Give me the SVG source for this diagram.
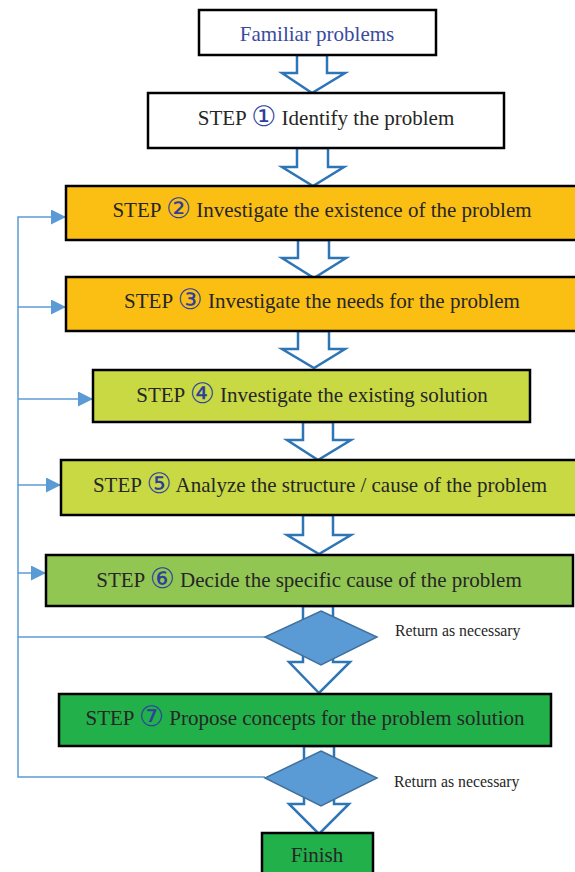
<svg xmlns="http://www.w3.org/2000/svg" width="575" height="872" viewBox="0 0 575 872">
<defs>
<marker id="tri" viewBox="0 0 15 15" refX="15" refY="7.5" markerWidth="15" markerHeight="15" markerUnits="userSpaceOnUse" orient="auto">
<path d="M0,0 L15,7.5 L0,15 Z" fill="#5b9bd5"/>
</marker>
<style>
.box{stroke:#000;stroke-width:2.5}
.t{font-family:"Liberation Serif","Times New Roman",serif;font-size:21px;fill:#262626;text-anchor:middle}
.n{font-family:"DejaVu Sans","Noto Sans CJK JP",sans-serif;font-size:28px;fill:#2e3f9e}
.blk{fill:#fff;stroke:#2e75b6;stroke-width:2.5;stroke-linejoin:miter}
.dia{fill:#5b9bd5;stroke:#41719c;stroke-width:1.5}
.fb{fill:none;stroke:#5b9bd5;stroke-width:1.5}
.r{font-family:"Liberation Serif","Times New Roman",serif;font-size:15.8px;fill:#262626}
</style>
</defs>
<g id="arrows">
<polygon class="blk" points="297,55 327,55 327,73 345,73 312,93 282,73 297,73"/>
<polygon class="blk" points="297,148 328,148 328,167 344,167 313,186 282,167 297,167"/>
<polygon class="blk" points="298,240 329,240 329,258 346,258 314,278 282,258 298,258"/>
<polygon class="blk" points="298,331 329,331 329,349 345,349 314,368 282,349 298,349"/>
<polygon class="blk" points="303,422 333,422 333,440 351,440 318,460 287,440 303,440"/>
<polygon class="blk" points="303,515 333,515 333,535 351,535 319,554 287,535 303,535"/>
<polygon class="blk" points="303,606 333,606 333,662 350,662 319,693 289,662 303,662"/>
<polygon class="blk" points="304,746 334,746 334,804 349,804 319,834 289,804 304,804"/>
</g>
<g id="connectors">
<polyline class="fb" points="265,637 18,637"/>
<polyline class="fb" points="265,777 18,777 18,217 66,217" marker-end="url(#tri)"/>
<line class="fb" x1="18" y1="307" x2="66" y2="307" marker-end="url(#tri)"/>
<line class="fb" x1="18" y1="399" x2="93" y2="399" marker-end="url(#tri)"/>
<line class="fb" x1="18" y1="485" x2="61" y2="485" marker-end="url(#tri)"/>
<line class="fb" x1="18" y1="573" x2="46" y2="573" marker-end="url(#tri)"/>
</g>
<g id="n0">
<rect class="box" x="199" y="10" width="237" height="45" fill="#fff"/>
<text class="t" x="317" y="41" style="fill:#3b4aa0">Familiar problems</text>
</g>
<g id="n1">
<rect class="box" x="148" y="93" width="356" height="55" fill="#fff"/>
<text class="t" x="326" y="125">STEP <tspan class="n" dy="1">①</tspan><tspan dy="-1"> Identify the problem</tspan></text>
</g>
<g id="n2">
<rect class="box" x="66" y="186" width="520" height="54" fill="#fbbf14"/>
<text class="t" x="322" y="217">STEP <tspan class="n" dy="1">②</tspan><tspan dy="-1"> Investigate the existence of the problem</tspan></text>
</g>
<g id="n3">
<rect class="box" x="66" y="277" width="520" height="54" fill="#fbbf14"/>
<text class="t" x="322" y="308">STEP <tspan class="n" dy="1">③</tspan><tspan dy="-1"> Investigate the needs for the problem</tspan></text>
</g>
<g id="n4">
<rect class="box" x="93" y="370" width="437" height="52" fill="#c8d944"/>
<text class="t" x="312" y="402">STEP <tspan class="n" dy="1">④</tspan><tspan dy="-1"> Investigate the existing solution</tspan></text>
</g>
<g id="n5">
<rect class="box" x="61" y="460" width="525" height="55" fill="#c8d944"/>
<text class="t" x="320" y="492">STEP <tspan class="n" dy="1">⑤</tspan><tspan dy="-1"> Analyze the structure / cause of the problem</tspan></text>
</g>
<g id="n6">
<rect class="box" x="46" y="555" width="527" height="51" fill="#92c653"/>
<text class="t" x="309" y="587">STEP <tspan class="n" dy="1">⑥</tspan><tspan dy="-1"> Decide the specific cause of the problem</tspan></text>
</g>
<g id="d1">
<polygon class="dia" points="321,611 377,637 321,665 265,637"/>
<text class="r" x="395" y="636">Return as necessary</text>
</g>
<g id="n7">
<rect class="box" x="59" y="694" width="492" height="52" fill="#22b04b"/>
<text class="t" x="305" y="725">STEP <tspan class="n" dy="1">⑦</tspan><tspan dy="-1"> Propose concepts for the problem solution</tspan></text>
</g>
<g id="d2">
<polygon class="dia" points="321,751 377,778 321,806 265,778"/>
<text class="r" x="394" y="787">Return as necessary</text>
</g>
<g id="n8">
<rect class="box" x="262" y="833" width="111" height="50" fill="#22b04b"/>
<text class="t" x="317" y="862">Finish</text>
</g>
</svg>
